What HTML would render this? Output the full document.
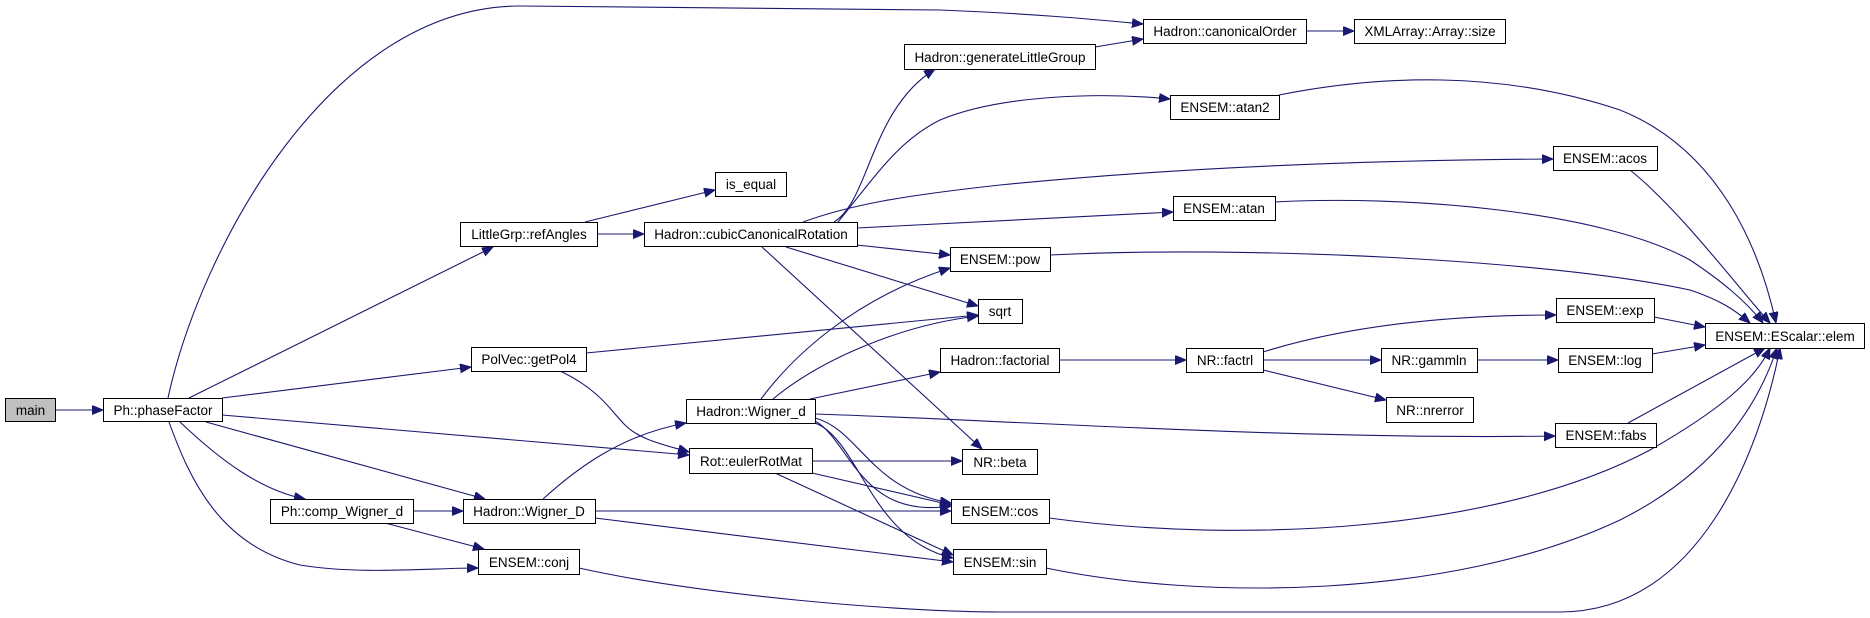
<!DOCTYPE html>
<html><head><meta charset="utf-8"><style>
html,body{margin:0;padding:0;background:#fff;}
svg{display:block;}
text{font-family:"Liberation Sans",Arial,sans-serif;font-size:13.5px;fill:#000;}
</style></head><body>
<svg width="1870" height="618" viewBox="0 0 1870 618" xmlns="http://www.w3.org/2000/svg">
<defs>
<marker id="a" markerUnits="userSpaceOnUse" markerWidth="12" markerHeight="10" refX="11" refY="4.5" orient="auto">
<path d="M0,0 L11,4.5 L0,9 Z" fill="#191970" stroke="#191970"/>
</marker>
</defs>
<g fill="none" stroke="#191970" stroke-width="1.1" marker-end="url(#a)">
<path d="M55,410 L103,410"/>
<path d="M168,398 C200,250 330,6 520,6 L940,10 C1040,14 1100,20 1143,24"/>
<path d="M189,398 L493,247"/>
<path d="M222,398 L471,367"/>
<path d="M222,415 L689,455"/>
<path d="M206,422 L485,499"/>
<path d="M180,422 C220,460 260,490 305,499"/>
<path d="M169,422 C190,480 220,545 300,565 C360,575 430,568 478,568"/>
<path d="M585,222 L715,190"/>
<path d="M597,234 L644,234"/>
<path d="M834,222 C870,200 870,110 935,69"/>
<path d="M1095,47 L1143,39"/>
<path d="M1306,31 L1354,31"/>
<path d="M838,222 C880,170 900,140 940,120 C1000,95 1100,92 1170,99"/>
<path d="M803,222 C850,205 900,196 1000,185 C1200,165 1400,160 1553,159"/>
<path d="M857,228 L1173,212"/>
<path d="M857,245 L950,255"/>
<path d="M786,247 L978,306"/>
<path d="M762,247 L982,449"/>
<path d="M586,353 L978,315"/>
<path d="M560,371 C600,390 610,410 625,425 C640,440 665,445 689,452"/>
<path d="M543,499 C575,470 620,435 686,423"/>
<path d="M413,511 L463,511"/>
<path d="M385,523 L484,549"/>
<path d="M595,511 L951,511"/>
<path d="M595,518 L953,562"/>
<path d="M761,399 C790,360 850,300 950,268"/>
<path d="M773,399 C820,360 900,325 978,316"/>
<path d="M810,399 L940,372"/>
<path d="M815,414 C1000,420 1300,440 1555,436"/>
<path d="M815,418 C860,430 870,490 951,503"/>
<path d="M815,421 C850,440 860,520 951,506"/>
<path d="M815,423 C860,440 870,540 953,558"/>
<path d="M812,461 L962,461"/>
<path d="M812,473 L951,505"/>
<path d="M775,473 L953,555"/>
<path d="M1059,360 L1186,360"/>
<path d="M1263,352 C1350,325 1450,315 1556,315"/>
<path d="M1263,360 L1381,360"/>
<path d="M1263,370 L1386,400"/>
<path d="M1477,360 L1558,360"/>
<path d="M1654,317 L1705,327"/>
<path d="M1652,354 L1705,345"/>
<path d="M1628,423 L1765,348"/>
<path d="M1279,95 C1380,75 1500,70 1620,110 C1720,150 1760,250 1776,323"/>
<path d="M1630,170 C1680,210 1740,290 1770,323"/>
<path d="M1275,202 C1400,195 1600,210 1690,260 C1720,280 1745,300 1763,323"/>
<path d="M1050,255 C1250,245 1550,260 1690,290 C1720,300 1735,310 1750,323"/>
<path d="M1049,518 C1250,545 1500,530 1650,450 C1720,410 1755,380 1770,348"/>
<path d="M1046,568 C1200,600 1450,600 1620,520 C1720,470 1760,400 1777,348"/>
<path d="M579,568 C700,595 900,612 1000,612 L1560,612 C1700,612 1760,450 1780,348"/>
</g>
<g stroke="#000" stroke-width="1" fill="#fff">
<rect x="5.5" y="398.5" width="50" height="23" fill="#bfbfbf"/>
<rect x="103.5" y="398.5" width="119" height="23"/>
<rect x="460.5" y="222.5" width="137" height="24"/>
<rect x="715.5" y="172.5" width="71" height="24"/>
<rect x="644.5" y="222.5" width="213" height="24"/>
<rect x="471.5" y="347.5" width="115" height="24"/>
<rect x="686.5" y="399.5" width="129" height="24"/>
<rect x="689.5" y="448.5" width="123" height="25"/>
<rect x="270.5" y="499.5" width="143" height="24"/>
<rect x="463.5" y="499.5" width="132" height="24"/>
<rect x="478.5" y="549.5" width="101" height="25"/>
<rect x="904.5" y="44.5" width="191" height="25"/>
<rect x="1143.5" y="19.5" width="163" height="24"/>
<rect x="1354.5" y="19.5" width="151" height="24"/>
<rect x="1170.5" y="95.5" width="109" height="24"/>
<rect x="1553.5" y="146.5" width="104" height="24"/>
<rect x="1173.5" y="196.5" width="102" height="24"/>
<rect x="950.5" y="247.5" width="100" height="24"/>
<rect x="978.5" y="299.5" width="44" height="24"/>
<rect x="940.5" y="348.5" width="119" height="24"/>
<rect x="1186.5" y="348.5" width="77" height="24"/>
<rect x="1381.5" y="348.5" width="96" height="24"/>
<rect x="1558.5" y="348.5" width="94" height="24"/>
<rect x="1556.5" y="298.5" width="98" height="24"/>
<rect x="1705.5" y="323.5" width="159" height="25"/>
<rect x="1386.5" y="397.5" width="87" height="25"/>
<rect x="1555.5" y="423.5" width="101" height="24"/>
<rect x="962.5" y="449.5" width="75" height="25"/>
<rect x="951.5" y="499.5" width="98" height="24"/>
<rect x="953.5" y="549.5" width="93" height="25"/>
</g>
<g text-anchor="middle">
<text x="30.5" y="415">main</text>
<text x="163" y="415">Ph::phaseFactor</text>
<text x="529" y="239">LittleGrp::refAngles</text>
<text x="751" y="189">is_equal</text>
<text x="751" y="239">Hadron::cubicCanonicalRotation</text>
<text x="529" y="364">PolVec::getPol4</text>
<text x="751" y="416">Hadron::Wigner_d</text>
<text x="751" y="466">Rot::eulerRotMat</text>
<text x="342" y="516">Ph::comp_Wigner_d</text>
<text x="529" y="516">Hadron::Wigner_D</text>
<text x="529" y="567">ENSEM::conj</text>
<text x="1000" y="62">Hadron::generateLittleGroup</text>
<text x="1225" y="36">Hadron::canonicalOrder</text>
<text x="1430" y="36">XMLArray::Array::size</text>
<text x="1225" y="112">ENSEM::atan2</text>
<text x="1605" y="163">ENSEM::acos</text>
<text x="1224" y="213">ENSEM::atan</text>
<text x="1000" y="264">ENSEM::pow</text>
<text x="1000" y="316">sqrt</text>
<text x="1000" y="365">Hadron::factorial</text>
<text x="1225" y="365">NR::factrl</text>
<text x="1429" y="365">NR::gammln</text>
<text x="1605" y="365">ENSEM::log</text>
<text x="1605" y="315">ENSEM::exp</text>
<text x="1785" y="341">ENSEM::EScalar::elem</text>
<text x="1430" y="415">NR::nrerror</text>
<text x="1606" y="440">ENSEM::fabs</text>
<text x="1000" y="467">NR::beta</text>
<text x="1000" y="516">ENSEM::cos</text>
<text x="1000" y="567">ENSEM::sin</text>
</g>
</svg>
</body></html>
